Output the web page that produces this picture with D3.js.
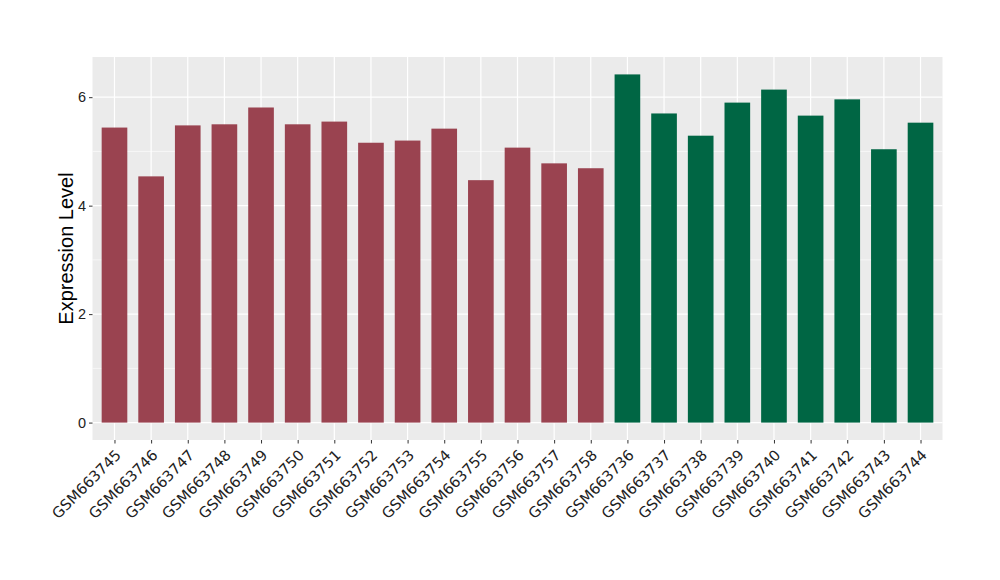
<!DOCTYPE html>
<html>
<head>
<meta charset="utf-8">
<script src="https://cdn.jsdelivr.net/npm/d3@7"></script>
<style>
  body { margin: 0; background: #fff; }
  svg { display: block; }
</style>
</head>
<body>
<svg id="chart" width="1000" height="580"></svg>
<script>
const categories = ["GSM663745","GSM663746","GSM663747","GSM663748","GSM663749","GSM663750","GSM663751","GSM663752","GSM663753","GSM663754","GSM663755","GSM663756","GSM663757","GSM663758","GSM663736","GSM663737","GSM663738","GSM663739","GSM663740","GSM663741","GSM663742","GSM663743","GSM663744"];
const values = [5.44,4.54,5.48,5.50,5.81,5.50,5.55,5.16,5.20,5.42,4.47,5.07,4.78,4.69,6.42,5.70,5.29,5.90,6.14,5.66,5.96,5.04,5.53];
const groups = ["A","A","A","A","A","A","A","A","A","A","A","A","A","A","B","B","B","B","B","B","B","B","B"];
const yTicks = [0,2,4,6];
const yMinor = [1,3,5];
const groupColors = {A: "#9a4350", B: "#006644"};

const svg = d3.select("#chart");
const panel = {left: 92.5, right: 942.5, top: 57, bottom: 440};

const maxV = d3.max(values);
const pad = maxV * 0.05;
const y = d3.scaleLinear().domain([-pad, maxV + pad]).range([panel.bottom, panel.top]);

const n = categories.length;
const step = (panel.right - panel.left) / (n - 1 + 1.2);
const x = d3.scalePoint().domain(categories)
  .range([panel.left + 0.6 * step, panel.right - 0.6 * step]);
const bw = step * 0.7;

svg.append("rect").attr("x", panel.left).attr("y", panel.top)
  .attr("width", panel.right - panel.left).attr("height", panel.bottom - panel.top)
  .attr("fill", "#ebebeb");

const g = svg.append("g");
g.selectAll(".minor").data(yMinor).join("line")
  .attr("x1", panel.left).attr("x2", panel.right)
  .attr("y1", d => y(d)).attr("y2", d => y(d))
  .attr("stroke", "#fff").attr("stroke-width", 0.6);
g.selectAll(".major").data(yTicks).join("line")
  .attr("x1", panel.left).attr("x2", panel.right)
  .attr("y1", d => y(d)).attr("y2", d => y(d))
  .attr("stroke", "#fff").attr("stroke-width", 1.2);
g.selectAll(".vgrid").data(categories).join("line")
  .attr("x1", d => x(d)).attr("x2", d => x(d))
  .attr("y1", panel.top).attr("y2", panel.bottom)
  .attr("stroke", "#fff").attr("stroke-width", 1.2);

svg.selectAll(".bar").data(categories).join("rect")
  .attr("x", d => x(d) - bw / 2)
  .attr("width", bw)
  .attr("y", (d, i) => y(values[i]))
  .attr("height", (d, i) => y(0) - y(values[i]))
  .attr("fill", (d, i) => groupColors[groups[i]]);

// y axis
const yAxis = d3.axisLeft(y).tickValues(yTicks).tickFormat(d3.format("d")).tickSize(3.5).tickPadding(3);
const ya = svg.append("g").attr("transform", `translate(${panel.left},0)`).call(yAxis);
ya.select(".domain").remove();
ya.selectAll(".tick line").attr("stroke", "#333").attr("stroke-width", 1);
ya.selectAll(".tick text").attr("fill", "#222").attr("font-size", 14.5)
  .attr("font-family", "Liberation Sans, Arial, sans-serif");

// x axis
const xAxis = d3.axisBottom(x).tickSize(3.5).tickPadding(2);
const xa = svg.append("g").attr("transform", `translate(0,${panel.bottom})`).call(xAxis);
xa.select(".domain").remove();
xa.selectAll(".tick line").attr("stroke", "#333").attr("stroke-width", 1);
xa.selectAll(".tick text")
  .attr("fill", "#222").attr("font-size", 14.8)
  .attr("font-family", "DejaVu Sans, sans-serif")
  .attr("text-anchor", "end")
  .attr("y", 0)
  .attr("dy", 0)
  .attr("transform", "translate(7,16) rotate(-45)");

svg.append("text")
  .attr("transform", `translate(73,${(panel.top + panel.bottom) / 2}) rotate(-90)`)
  .attr("text-anchor", "middle")
  .attr("font-size", 20)
  .attr("font-family", "Liberation Sans, Arial, sans-serif")
  .attr("fill", "#000")
  .text("Expression Level");
</script>
</body>
</html>
